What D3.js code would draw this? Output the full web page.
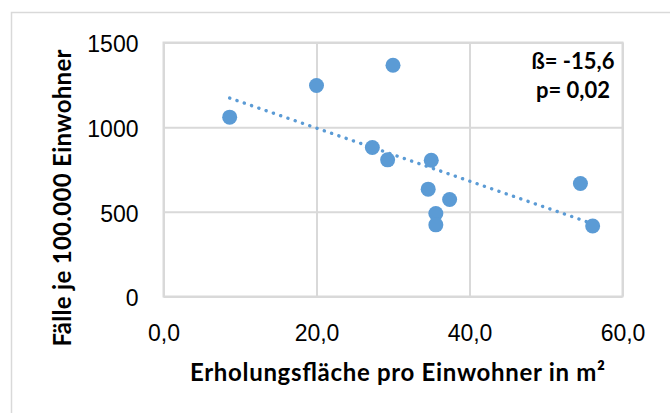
<!DOCTYPE html>
<html>
<head>
<meta charset="utf-8">
<script src="https://cdn.jsdelivr.net/npm/d3@7.9.0/dist/d3.min.js"></script>
<style>
  body { margin: 0; background: #fff; }
  svg { display: block; font-family: Lato, "Open Sans", sans-serif; }
  .tick text { font-size: 23px; fill: #000; }
  .axis-title { font-size: 24px; font-weight: bold; fill: #000; }
  .note { font-size: 22px; font-weight: bold; fill: #000; }
</style>
</head>
<body>
<svg id="chart" width="670" height="413"></svg>
<script>
// Erholungsfläche pro Einwohner (m²) vs. Fälle je 100.000 Einwohner
const flaeche = [8.65, 20.0, 30.0, 27.3, 29.3, 35.0, 34.6, 37.4, 35.6, 35.6, 54.5, 56.1];
const faelle  = [1059, 1246, 1366, 880, 807, 805, 634, 573, 490, 423, 667, 416];
const xTicks = [0, 20, 40, 60];
const yTicks = [0, 500, 1000, 1500];
const noteLines = ['ß= -15,6', 'p= 0,02'];

const svg = d3.select('#chart');
const margin = { left: 163.5, right: 47.5, top: 42.5, bottom: 116.5 };
const width = 670, height = 413;
const color = '#5b9bd5';
const gridColor = '#d9d9d9';

// outer chart frame (runs off the right and bottom edge like the source)
svg.append('rect')
    .attr('x', 11.5).attr('y', 12.5)
    .attr('width', 700).attr('height', 450)
    .attr('fill', 'none').attr('stroke', gridColor).attr('stroke-width', 1.5);

let x = d3.scaleLinear().domain([0, 60]).range([margin.left, width - margin.right]);
let y = d3.scaleLinear().domain([0, 1500]).range([height - margin.bottom, margin.top]);

let commaFmt = (d) => d3.format('.1f')(d).replace('.', ',');

// grid + axes
let xAxis = svg.append('g')
    .attr('transform', `translate(0,${y(0)})`)
    .call(d3.axisBottom(x).tickValues(xTicks).tickFormat(commaFmt)
        .tickSize(-(y(0) - y(1500))));
let yAxis = svg.append('g')
    .attr('transform', `translate(${x(0)},0)`)
    .call(d3.axisLeft(y).tickValues(yTicks).tickFormat(d3.format('d'))
        .tickSize(-(x(60) - x(0))).tickPadding(25));

[xAxis, yAxis].forEach((g) => {
    g.select('.domain').remove();
    g.selectAll('.tick line').attr('stroke', gridColor).attr('stroke-width', 2);
});
// baseline of x labels ~ 44px below the axis
xAxis.selectAll('.tick text').attr('y', 44.5).attr('dy', 0);
yAxis.selectAll('.tick text').attr('dy', '0.4em');

// plot border
svg.append('rect')
    .attr('x', x(0)).attr('y', y(1500))
    .attr('width', x(60) - x(0)).attr('height', y(0) - y(1500))
    .attr('fill', 'none').attr('stroke', gridColor).attr('stroke-width', 2);

// linear trend line (least squares)
let pts = flaeche.map((v, i) => ({ x: v, y: faelle[i] }));
let mx = d3.mean(pts, (d) => d.x), my = d3.mean(pts, (d) => d.y);
let slope = d3.sum(pts, (d) => (d.x - mx) * (d.y - my)) / d3.sum(pts, (d) => (d.x - mx) ** 2);
let icpt = my - slope * mx;
let [x0, x1] = d3.extent(flaeche);
svg.append('line')
    .attr('x1', x(x0)).attr('y1', y(icpt + slope * x0))
    .attr('x2', x(x1)).attr('y2', y(icpt + slope * x1))
    .attr('stroke', color).attr('stroke-width', 3.4)
    .attr('stroke-linecap', 'round').attr('stroke-dasharray', '0.1 7.6');

// points
svg.append('g').selectAll('circle')
    .data(pts)
    .join('circle')
    .attr('cx', (d) => x(d.x))
    .attr('cy', (d) => y(d.y))
    .attr('r', 7.5)
    .attr('fill', color);

// annotation
noteLines.forEach((t, i) => {
    svg.append('text').attr('class', 'note')
        .attr('x', 573).attr('y', 69 + i * 29)
        .attr('text-anchor', 'middle')
        .text(t);
});

// axis titles
svg.append('text').attr('class', 'axis-title')
    .attr('x', 397.5).attr('y', 381)
    .attr('text-anchor', 'middle')
    .attr('textLength', 415).attr('lengthAdjust', 'spacing')
    .text('Erholungsfläche pro Einwohner in m²');
svg.append('text').attr('class', 'axis-title')
    .attr('transform', 'translate(71,198) rotate(-90)')
    .attr('text-anchor', 'middle')
    .attr('textLength', 297).attr('lengthAdjust', 'spacing')
    .text('Fälle je 100.000 Einwohner');
</script>
</body>
</html>
